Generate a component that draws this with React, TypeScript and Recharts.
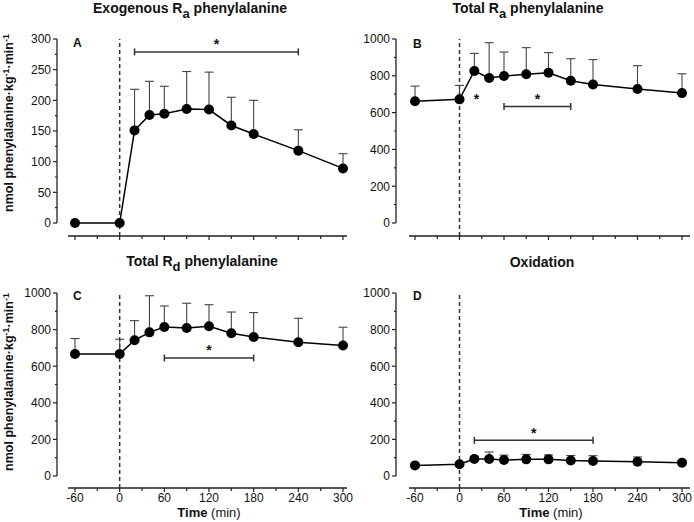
import React from 'react';
import { LineChart, Line, XAxis, YAxis, ErrorBar, ReferenceLine, ReferenceDot } from 'recharts';

const FONT = '"Liberation Sans", Arial, Helvetica, sans-serif';
const AXIS = '#222';

// Time points (min)
const times = [-60, 0, 20, 40, 60, 90, 120, 150, 180, 240, 300];
const xTicks = [-60, -30, 0, 30, 60, 90, 120, 150, 180, 210, 240, 270, 300];
const yTicks300 = [0, 25, 50, 75, 100, 125, 150, 175, 200, 225, 250, 275, 300];
const yTicks1000 = [0, 100, 200, 300, 400, 500, 600, 700, 800, 900, 1000];

// A: Exogenous Ra phenylalanine
const exoRaMean = [0, 0, 151, 176, 178, 186, 185, 159, 145, 118, 89];
const exoRaSD = [0, 0, 67, 55, 45, 61, 61, 46, 55, 34, 24];
// B: Total Ra phenylalanine
const totalRaMean = [662, 672, 826, 788, 799, 808, 817, 773, 753, 728, 706];
const totalRaSD = [82, 76, 96, 192, 130, 145, 109, 120, 135, 127, 105];
// C: Total Rd phenylalanine
const totalRdMean = [667, 667, 742, 785, 814, 809, 818, 780, 760, 731, 713];
const totalRdSD = [84, 80, 107, 200, 115, 135, 118, 116, 133, 131, 100];
// D: Oxidation
const oxMean = [58, 64, 93, 93, 87, 91, 91, 85, 82, 78, 73];
const oxSD = [8, 10, 15, 38, 27, 27, 24, 27, 29, 26, 10];

// significance bars (from, to, level) and single stars
const sigA = { from: 20, to: 240, level: 279 };
const sigB = { from: 60, to: 150, level: 633 };
const starB = { t: 23, level: 686 };
const sigC = { from: 60, to: 180, level: 645 };
const sigD = { from: 20, to: 180, level: 195 };

const XTick = (props: any) => {
  const { x, y, payload, showLabels } = props;
  const major = payload.value % 60 === 0;
  return (
    <g>
      <line x1={x} x2={x} y1={y} y2={y + (major ? 4 : 3)} stroke={AXIS} strokeWidth={1.2} />
      {showLabels && major ? (
        <text x={x} y={y + 14} textAnchor="middle" fontSize={12} fontFamily={FONT} fill="#111">
          {payload.value}
        </text>
      ) : null}
    </g>
  );
};

const YTick = (props: any) => {
  const { x, y, payload, step } = props;
  const major = payload.value % step === 0;
  return (
    <g>
      <line x1={x - (major ? 4 : 2)} x2={x} y1={y} y2={y} stroke={AXIS} strokeWidth={1.2} />
      {major ? (
        <text x={x - 6} y={y + 4.3} textAnchor="end" fontSize={12} fontFamily={FONT} fill="#111">
          {payload.value}
        </text>
      ) : null}
    </g>
  );
};

const SigShape = (props: any) => {
  const { x1, y1, x2, y2 } = props;
  const cx = (x1 + x2) / 2;
  return (
    <g>
      <line x1={x1} x2={x2} y1={y1} y2={y2} stroke="#333" strokeWidth={1.5} />
      <line x1={x1} x2={x1} y1={y1 - 3.5} y2={y1 + 3.5} stroke="#333" strokeWidth={1.5} />
      <line x1={x2} x2={x2} y1={y2 - 3.5} y2={y2 + 3.5} stroke="#333" strokeWidth={1.5} />
      <text x={cx} y={y1 - 2.5} textAnchor="middle" fontSize={14} fontWeight="bold" fontFamily={FONT} fill="#111">
        *
      </text>
    </g>
  );
};

const StarShape = (props: any) => {
  const { cx, cy } = props;
  return (
    <text x={cx} y={cy + 7.5} textAnchor="middle" fontSize={14} fontWeight="bold" fontFamily={FONT} fill="#111">
      *
    </text>
  );
};

type PanelProps = {
  left: number;
  top: number;
  width: number;
  height: number;
  marginTop: number;
  marginRight: number;
  xAxisHeight: number;
  yPadBottom: number;
  xPadLeft: number;
  xPadRight: number;
  xLineSkip: number;
  mean: number[];
  sd: number[];
  yMax: number;
  yTicks: number[];
  yStep: number;
  showXLabels: boolean;
  sig: { from: number; to: number; level: number };
  star?: { t: number; level: number };
};

function Panel(p: PanelProps) {
  const data = times.map((t, i) => ({ t, v: p.mean[i], err: [0, p.sd[i]] }));
  const plotH = p.height - p.marginTop - p.xAxisHeight;
  return (
    <div style={{ position: 'absolute', left: p.left, top: p.top, width: p.width, height: p.height }}>
      <LineChart
        width={p.width}
        height={p.height}
        data={data}
        margin={{ top: p.marginTop, right: p.marginRight, bottom: 0, left: 0 }}
      >
        <XAxis
          dataKey="t"
          type="number"
          domain={[-60, 300]}
          ticks={xTicks}
          interval={0}
          padding={{ left: p.xPadLeft, right: p.xPadRight }}
          height={p.xAxisHeight}
          tickSize={0}
          tickMargin={0}
          tickLine={false}
          axisLine={{ stroke: AXIS, strokeWidth: 1.3, strokeDasharray: `0 ${p.xLineSkip} 3000` }}
          tick={(tp: any) => <XTick {...tp} showLabels={p.showXLabels} />}
        />
        <YAxis
          type="number"
          domain={[0, p.yMax]}
          ticks={p.yTicks}
          interval={0}
          padding={{ top: 0, bottom: p.yPadBottom }}
          width={57}
          tickSize={0}
          tickMargin={0}
          tickLine={false}
          axisLine={{ stroke: AXIS, strokeWidth: 1.3, strokeDasharray: `${plotH - p.yPadBottom} 3000` }}
          tick={(tp: any) => <YTick {...tp} step={p.yStep} />}
        />
        <ReferenceLine x={0} stroke="#333" strokeDasharray="4 3" strokeWidth={1.5} />
        <ReferenceLine
          segment={[
            { x: p.sig.from, y: p.sig.level },
            { x: p.sig.to, y: p.sig.level },
          ]}
          shape={SigShape}
        />
        {p.star ? <ReferenceDot x={p.star.t} y={p.star.level} shape={StarShape} /> : null}
        <Line
          dataKey="v"
          type="linear"
          stroke="#000"
          strokeWidth={1.5}
          dot={{ r: 5, fill: '#000', stroke: '#000', strokeWidth: 0 }}
          activeDot={false}
          isAnimationActive={false}
        >
          <ErrorBar dataKey="err" width={4.5} stroke="#444" strokeWidth={1.1} direction="y" />
        </Line>
      </LineChart>
    </div>
  );
}

const Title = ({ x, y, pre, sub, post }: { x: number; y: number; pre: string; sub?: string; post?: string }) => (
  <text x={x} y={y} textAnchor="middle" fontSize={14} fontWeight="bold" fontFamily={FONT} fill="#111">
    {pre}
    {sub ? (
      <tspan dy={5} fontSize={13}>
        {sub}
      </tspan>
    ) : null}
    {post ? <tspan dy={sub ? -5 : 0}>{post}</tspan> : null}
  </text>
);

const YLabel = ({ x, cy }: { x: number; cy: number }) => (
  <text
    x={x}
    y={cy}
    transform={`rotate(-90 ${x} ${cy})`}
    textAnchor="middle"
    fontSize={12.5}
    fontWeight="bold"
    fontFamily={FONT}
    fill="#111"
  >
    nmol phenylalanine·kg
    <tspan dy={-4} fontSize={9}>-1</tspan>
    <tspan dy={4}>·min</tspan>
    <tspan dy={-4} fontSize={9}>-1</tspan>
  </text>
);

const TimeLabel = ({ x, y }: { x: number; y: number }) => (
  <text x={x} y={y} textAnchor="middle" fontSize={13} fontFamily={FONT} fill="#111">
    <tspan fontWeight="bold">Time</tspan>
    <tspan> (min)</tspan>
  </text>
);

const Letter = ({ x, y, s }: { x: number; y: number; s: string }) => (
  <text x={x} y={y} fontSize={12} fontWeight="bold" fontFamily={FONT} fill="#111">
    {s}
  </text>
);

export default function App() {
  return (
    <div style={{ position: 'absolute', left: 0, top: 0, width: 694, height: 522, background: '#fff', fontFamily: FONT }}>
      <Panel left={0} top={0} width={360} height={250} marginTop={39} marginRight={13} xAxisHeight={14}
        yPadBottom={13} xPadLeft={18} xPadRight={4} xLineSkip={11}
        mean={exoRaMean} sd={exoRaSD} yMax={300} yTicks={yTicks300} yStep={50} showXLabels={false} sig={sigA} />
      <Panel left={339} top={0} width={355} height={250} marginTop={39} marginRight={4} xAxisHeight={14}
        yPadBottom={13} xPadLeft={19} xPadRight={8} xLineSkip={13}
        mean={totalRaMean} sd={totalRaSD} yMax={1000} yTicks={yTicks1000} yStep={200} showXLabels={false} sig={sigB} star={starB} />
      <Panel left={0} top={250} width={360} height={272} marginTop={43} marginRight={13} xAxisHeight={34}
        yPadBottom={12} xPadLeft={18} xPadRight={4} xLineSkip={11}
        mean={totalRdMean} sd={totalRdSD} yMax={1000} yTicks={yTicks1000} yStep={200} showXLabels={true} sig={sigC} />
      <Panel left={339} top={250} width={355} height={272} marginTop={43} marginRight={4} xAxisHeight={34}
        yPadBottom={12} xPadLeft={19} xPadRight={8} xLineSkip={13}
        mean={oxMean} sd={oxSD} yMax={1000} yTicks={yTicks1000} yStep={200} showXLabels={true} sig={sigD} />
      <svg width={694} height={522} style={{ position: 'absolute', left: 0, top: 0, pointerEvents: 'none' }}>
        <Title x={190} y={13} pre="Exogenous R" sub="a" post=" phenylalanine" />
        <Title x={528} y={13} pre="Total R" sub="a" post=" phenylalanine" />
        <Title x={202} y={266} pre="Total R" sub="d" post=" phenylalanine" />
        <Title x={542} y={267} pre="Oxidation" />
        <YLabel x={13} cy={123} />
        <YLabel x={13} cy={382} />
        <Letter x={73} y={47} s="A" />
        <Letter x={413} y={48} s="B" />
        <Letter x={73} y={300} s="C" />
        <Letter x={413} y={300} s="D" />
        <TimeLabel x={209} y={517} />
        <TimeLabel x={551} y={517} />
      </svg>
    </div>
  );
}
